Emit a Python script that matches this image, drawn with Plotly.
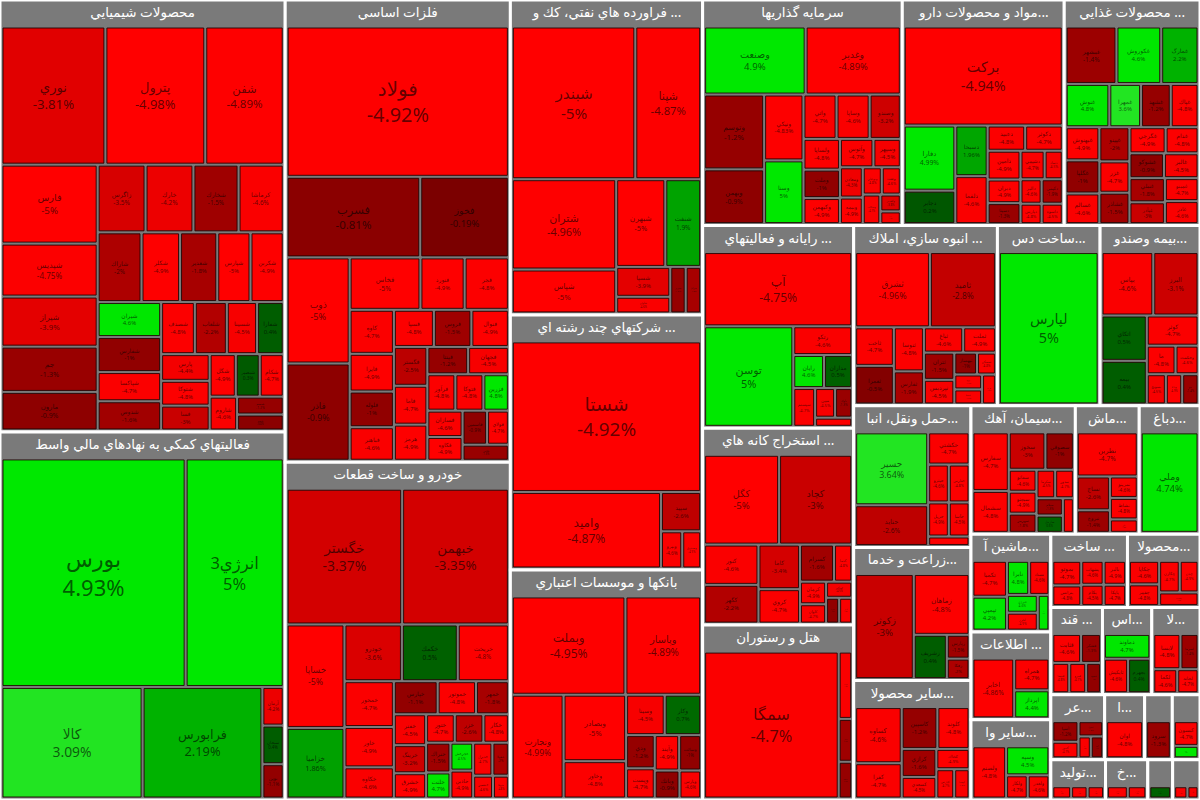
import math
import plotly.graph_objects as go

W, H = 1200, 800

# ---------------- data (values ~ market size read from tile areas, change in %) ----------------
chem_names = ["نوري", "پترول", "شفن", "فارس", "شپديس", "شيراز", "جم", "مارون", "زاگرس", "خارك", "شخارك",
              "كرماشا", "شاراك", "شكلر", "شغدير", "شپارس", "شكربن", "شيران", "شفارس", "شپاكسا", "شدوص",
              "شصدف", "شلعاب", "شسينا", "شفارا", "پارس", "شتوكا", "فسا", "شگل", "شبصير", "شاروم", "شسم",
              "شكام", "شجم"]
chem_values = [155, 149, 117, 82, 55, 52, 47, 40, 35, 35, 33, 33, 33, 29, 28, 25, 25, 24, 24, 20, 20,
               19, 18, 17, 15, 14, 13, 13, 12, 11, 10, 9, 11, 8]
chem_change = [-3.81, -4.98, -4.89, -5, -4.75, -3.9, -1.3, -0.9, -3.5, -4.2, -1.5, -4.6, -2.0, -4.9, -1.8,
               -5, -4.9, 4.6, -1.0, -4.7, -1.6, -4.8, -2.2, -4.5, 0.4, -4.4, -4.8, -3.0, -4.9, 0.3, -4.6,
               -1.2, -4.7, -0.8]

fin_names = ["بورس", "انرژي3", "كالا", "فرابورس", "آرمان", "سبحان", "نوين"]
fin_values = [460, 245, 172, 146, 9, 9, 8]
fin_change = [4.93, 5, 3.09, 2.19, -4.2, 0.4, -1.1]

metal_names = ["فولاد", "فسرب", "فخوز", "ذوب", "فاذر", "فخاس", "فنورد", "فجر", "كاوه", "فايرا", "فلوله",
               "فباهنر", "فسپا", "فروس", "فنوال", "فگستر", "فاما", "هرمز", "فپنتا", "فجهان", "فرآور",
               "فزرين", "فسازان", "فكاوه", "فولاي", "فلامي", "فتوكا", "فاسمين"]
metal_values = [360, 116, 77, 72, 66, 40, 25, 25, 21, 18, 17, 16, 16, 15, 15, 14, 14, 13, 12, 12, 11,
                10, 10, 9, 8, 8, 11, 9]
metal_change = [-4.92, -0.81, -0.19, -5, -0.9, -5, -4.9, -4.8, -4.7, -4.9, -1.0, -4.6, -4.8, -1.5, -4.9,
                -2.5, -4.7, -4.9, -1.2, -4.5, -4.8, 4.8, -4.6, -4.9, -4.7, -1.3, -4.8, -0.9]

auto_names = ["خگستر", "خبهمن", "خساپا", "خزاميا", "خودرو", "خكمك", "خريخت", "خمحور", "خاور", "خكاوه",
              "خپارس", "خموتور", "خمهر", "خفنر", "خرينگ", "خشرق", "ختور", "خزر", "خكار", "ختراك",
              "خلنت", "خچرخش", "خاذين", "خفولا", "خنصير", "ختوقا", "خديزل"]
auto_values = [173, 160, 66, 45, 36, 35, 32, 25, 22, 17, 16, 14, 12, 11, 10, 9, 9, 9, 8, 8, 7, 7, 7, 6,
               5, 4, 7]
auto_change = [-3.37, -3.35, -5, 1.86, -3.6, 0.5, -4.8, -4.7, -4.9, -4.6, -1.1, -4.8, -1.8, -4.5, -3.2,
               -4.9, -4.7, -2.6, -4.8, -1.5, 4.7, 4.5, -4.9, -2.0, -4.6, -4.8, -4.7]

oil_names = ["شبندر", "شپنا", "شتران", "شپاس", "شبهرن", "شنفت", "شسپا", "شاوان", "شبريز", "شرانل"]
oil_values = [210, 112, 105, 51, 48, 35, 18, 10, 8, 8]
oil_change = [-5, -4.87, -4.96, -5, -5, 1.9, -3.9, -4.6, -1.2, -1.8]

multi_names = ["شستا", "وامید", "سپيد", "ونيرو", "وصندوق"]
multi_values = [325, 130, 18, 9, 8]
multi_change = [-4.92, -4.87, -2.6, -4.6, -4.9]

bank_names = ["وبملت", "وپاسار", "وتجارت", "وبصادر", "وخاور", "وسينا", "وكار", "ودي", "وپست", "وسالت",
              "وبانك", "وآيند", "وپارس"]
bank_values = [129, 86, 62, 48, 27, 18, 17, 11, 10, 9, 8, 10, 7]
bank_change = [-4.95, -4.89, -4.99, -5, -4.8, -4.5, 0.7, -1.2, -4.7, -1.0, -0.9, -4.9, -4.6]

inv_names = ["وصنعت", "وغدير", "وتوسم", "وبهمن", "ونيكي", "وسنا", "واتي", "وساپا", "وصندو", "ولساپا",
             "وكبهمن", "وآتوس", "وسپهر", "وملت", "ومعادن", "وبوعلي", "ونفت", "وبيمه", "وسكاب", "ورنا",
             "وكغدير"]
inv_values = [80, 75, 52, 38, 30, 29, 17, 17, 16, 13, 11, 11, 9, 12, 8, 6, 6, 7, 6, 3, 4]
inv_change = [4.9, -4.89, -1.2, -0.9, -4.83, 5, -4.7, -4.6, -3.2, -4.8, -4.9, -4.7, -4.5, -1.0, -4.3,
              -4.8, -4.6, -4.9, -4.7, -4.5, -3.8]

pharma_names = ["بركت", "دفارا", "دسبحا", "دجابر", "دلقما", "دعبيد", "دكوثر", "ديران", "دسينا", "دتماد",
                "دپارس", "دامين", "دشيمي", "دالبر", "داسوه", "دكيمي"]
pharma_values = [183, 39, 19, 20, 18, 11, 11, 9, 8, 6, 5, 11, 8, 6, 5, 6]
pharma_change = [-4.94, 4.99, 1.96, 0.2, -4.6, -4.8, -4.7, -4.9, -1.3, -4.5, -4.8, -4.9, -4.7, -4.6,
                 -4.5, -1.9]

food_names = ["غبشهر", "غكوروش", "غمارگ", "غنوش", "غمهرا", "غشهد", "غپاك", "غبهنوش", "غگلپا", "غسالم",
              "غپينو", "غزر", "غشاذر", "غگرجي", "غدام", "غشوكو", "غالبر", "غپآذر", "غمينو", "غنيلي",
              "غاذر"]
food_values = [34, 30, 25, 22, 16, 15, 14, 13, 13, 12, 12, 11, 11, 11, 10, 10, 10, 9, 9, 10, 9]
food_change = [-1.4, 4.6, 2.2, 4.8, 3.6, -1.2, -4.8, -4.9, -1.0, -4.6, -2.0, -4.7, -1.5, -4.9, -4.8,
               -0.9, -4.5, -3.0, -4.7, -1.8, -4.6]

comp_names = ["آپ", "توسن", "رتكو", "رايان", "مداران", "سيستم", "ناوك", "پرداخت", "مبين"]
comp_values = [130, 106, 20, 12, 11, 10, 6, 4, 7]
comp_change = [-4.75, 5, -4.6, 4.6, 0.5, -4.7, -1.3, -4.8, -4.5]

estate_names = ["ثشرق", "ثاميد", "ثاخت", "ثعمرا", "ثنوسا", "ثفارس", "ثباغ", "ثملت", "ثتران", "ثپرديس",
                "ثبهساز", "ثمسكن", "ثرود", "ثاصفا", "ثغرب"]
estate_values = [68, 60, 18, 18, 16, 12, 12, 10, 10, 9, 6, 5, 5, 5, 5]
estate_change = [-4.96, -2.8, -4.7, -0.5, -4.8, -1.9, -4.6, -4.9, -1.5, -4.5, -1.0, -4.8, -4.7, -4.6,
                 -4.9]

device_names = ["لپارس"]
device_values = [185]
device_change = [5]

ins_names = ["بپاس", "البرز", "اتكاي", "بيمه", "كوثر", "ما", "وحكمت", "ودانا", "بسويچ", "بنو"]
ins_values = [40, 35, 25, 24, 19, 10, 8, 6, 7, 6]
ins_change = [-4.6, -3.1, 0.5, 0.4, -4.7, -4.8, -4.6, -4.9, -4.5, -1.4]

mine_names = ["كگل", "كچاد", "كنور", "كگهر", "كاما", "كروي", "كسرام", "كدما", "كمنگنز", "كترام",
              "كپرور", "كرمان", "كاوان"]
mine_values = [80, 78, 26, 25, 22, 17, 15, 8, 5, 4, 4, 7, 6]
mine_change = [-5, -3.0, -4.6, -2.2, -3.4, -4.7, -1.6, -4.8, -4.5, -1.0, -4.6, -4.9, -4.7]

hotel_names = ["سمگا", "سپيدار", "سكرد", "سفينا"]
hotel_values = [240, 11, 7, 6]
hotel_change = [-4.7, -4.6, -1.5, -1.2]

trans_names = ["حسير", "حتايد", "حكشتي", "حپترو", "حفارس", "حريل", "حآسا", "حسينا"]
trans_values = [68, 38, 17, 10, 10, 9, 9, 5]
trans_change = [3.64, -2.6, -4.7, -4.6, -4.8, -4.9, -4.5, -4.7]

agri_names = ["زكوثر", "زماهان", "زشريف", "زپارس", "زفكا"]
agri_values = [80, 44, 19, 7, 6]
agri_change = [-3.0, -4.8, 0.4, -1.5, -2.0]

nonmet_names = ["كساوه", "كفرا", "كاسپين", "كلوند", "كرازي", "كسعدي", "كخاك", "كپارس", "كهمدا"]
nonmet_values = [35, 22, 20, 18, 13, 10, 9, 7, 6]
nonmet_change = [-4.6, -4.7, -1.2, -4.8, -1.6, -4.5, -4.9, -4.7, -4.6]

cement_names = ["سفارس", "سخوز", "سصوفي", "سشمال", "سفانو", "سبجنو", "سهرمز", "سكرما", "سيلام",
                "ساربيل", "سدور", "سخاش"]
cement_values = [28, 18, 14, 20, 8, 8, 7, 7, 6, 6, 7, 5]
cement_change = [-4.7, -3.0, -1.0, -4.8, -4.6, -4.9, -1.8, -4.5, -1.3, 0.6, -4.7, -4.6]

textile_names = ["نطرين", "نساج", "نبروج", "نمرينو", "نشاط", "نگين"]
textile_values = [36, 15, 10, 8, 8, 5]
textile_change = [-4.7, -2.6, -1.4, -4.6, -4.8, -4.5]

tan_names = ["وملي"]
tan_values = [78]
tan_change = [4.74]

mach_names = ["تكمبا", "تپمپي", "تايرا", "فنرژي", "بكاب", "تشتاد", "لخزر"]
mach_values = [18, 17, 11, 8, 6, 10, 8]
mach_change = [-4.7, 4.2, 4.8, 4.6, 4.5, -4.6, -4.9]

build_names = ["بموتو", "بترانس", "بشهاب", "بالبر", "بكام", "بايكا"]
build_values = [12, 10, 9, 9, 8, 8]
build_change = [-4.7, -4.8, -4.6, -4.9, -4.5, -4.7]

prod_names = ["چكاپا", "چفيبر", "چكارن", "چدن", "چافست"]
prod_values = [12, 11, 11, 10, 9]
prod_change = [-4.6, -4.8, -4.7, -4.9, -4.5]

info_names = ["اخابر", "همراه", "اپرداز"]
info_values = [38, 17, 15]
info_change = [-4.86, -4.7, 4.4]

ofin_names = ["ولصنم", "وسپه", "ولكار", "ولغدر"]
ofin_values = [28, 20, 8, 8]
ofin_change = [-4.8, 4.5, -4.7, -4.6]

sugar_names = ["قثابت", "قشكر", "قنيشا", "قمرو", "قشهد"]
sugar_values = [13, 9, 8, 8, 7]
sugar_change = [-4.6, -1.3, -4.8, -4.7, -1.0]

as_names = ["دماوند", "تاپكيش", "بجهرم"]
as_values = [18, 13, 12]
as_change = [4.7, -4.6, 0.4]

la_names = ["لابسا", "لسرما", "لكما", "لخانه"]
la_values = [15, 10, 9, 8]
la_change = [-4.8, -1.4, -4.6, -4.7]

ar_names = ["آسيا", "آكنتور", "اميرآ", "آبادا", "آتيه"]
ar_values = [10, 8, 7, 5, 5]
ar_change = [-1.2, -4.7, -1.6, -4.6, -1.0]

a_names = ["اوان"]
a_values = [26]
a_change = [-4.8]

bl1_names = ["سرود"]
bl1_values = [18]
bl1_change = [-1.3]

bl2_names = ["كيسون", "ثنظام"]
bl2_values = [12, 6]
bl2_change = [-4.7, 4.6]

tol_names = ["بورك", "تملت", "بفجر"]
tol_values = [8, 7, 7]
tol_change = [-4.7, -4.8, -4.6]

kh_names = ["خعمرا", "خكرمان"]
kh_values = [9, 8]
kh_change = [-4.8, -4.6]

bl3_names = ["ساروم"]
bl3_values = [10]
bl3_change = [0.5]

bl4_names = ["سنير", "كلر"]
bl4_values = [6, 5]
bl4_change = [-4.7, -4.5]

# sector table: key, header label, leaves
sectors = {
    "chem": ("محصولات شيميايي", chem_names, chem_values, chem_change),
    "fin": ("فعاليتهاي كمكي به نهادهاي مالي واسط", fin_names, fin_values, fin_change),
    "metal": ("فلزات اساسي", metal_names, metal_values, metal_change),
    "auto": ("خودرو و ساخت قطعات", auto_names, auto_values, auto_change),
    "oil": ("فراورده هاي نفتي، كك و ...", oil_names, oil_values, oil_change),
    "multi": ("شركتهاي چند رشته اي ...", multi_names, multi_values, multi_change),
    "bank": ("بانكها و موسسات اعتباري", bank_names, bank_values, bank_change),
    "inv": ("سرمايه گذاريها", inv_names, inv_values, inv_change),
    "pharma": ("مواد و محصولات دارو...", pharma_names, pharma_values, pharma_change),
    "food": ("محصولات غذايي ...", food_names, food_values, food_change),
    "comp": ("رايانه و فعاليتهاي ...", comp_names, comp_values, comp_change),
    "estate": ("انبوه سازي، املاك ...", estate_names, estate_values, estate_change),
    "device": ("ساخت دس...", device_names, device_values, device_change),
    "ins": ("بيمه وصندو...", ins_names, ins_values, ins_change),
    "mine": ("استخراج كانه هاي ...", mine_names, mine_values, mine_change),
    "hotel": ("هتل و رستوران", hotel_names, hotel_values, hotel_change),
    "trans": ("حمل ونقل، انبا...", trans_names, trans_values, trans_change),
    "agri": ("زراعت و خدما...", agri_names, agri_values, agri_change),
    "nonmet": ("ساير محصولا...", nonmet_names, nonmet_values, nonmet_change),
    "cement": ("سيمان، آهك...", cement_names, cement_values, cement_change),
    "textile": ("ماش...", textile_names, textile_values, textile_change),
    "tan": ("دباغ...", tan_names, tan_values, tan_change),
    "mach": ("ماشين آ...", mach_names, mach_values, mach_change),
    "build": ("ساخت ...", build_names, build_values, build_change),
    "prod": ("محصولا...", prod_names, prod_values, prod_change),
    "info": ("اطلاعات ...", info_names, info_values, info_change),
    "ofin": ("ساير وا...", ofin_names, ofin_values, ofin_change),
    "sugar": ("قند ...", sugar_names, sugar_values, sugar_change),
    "as": ("اس...", as_names, as_values, as_change),
    "la": ("لا...", la_names, la_values, la_change),
    "ar": ("عر...", ar_names, ar_values, ar_change),
    "a": ("ا...", a_names, a_values, a_change),
    "bl1": ("", bl1_names, bl1_values, bl1_change),
    "bl2": ("", bl2_names, bl2_values, bl2_change),
    "tol": ("توليد...", tol_names, tol_values, tol_change),
    "kh": ("خ...", kh_names, kh_values, kh_change),
    "bl3": ("", bl3_names, bl3_values, bl3_change),
    "bl4": ("", bl4_names, bl4_values, bl4_change),
}

# order in which sectors are strung in strips (as in the reference map)
strips = [
    ("col", ["chem", "fin"]),
    ("col", ["metal", "auto"]),
    ("col", ["oil", "multi", "bank"]),
    ("row", ["inv", "pharma", "food"]),
    ("col", ["comp", "mine", "hotel"]),
    ("row", ["estate", "device", "ins"]),
    ("col", ["trans", "agri", "nonmet"]),
    ("row", ["cement", "textile", "tan"]),
    ("col", ["mach", "info", "ofin"]),
    ("row", ["build", "prod"]),
    ("row", ["sugar", "as", "la"]),
    ("row", ["ar", "a", "bl1", "bl2"]),
    ("row", ["tol", "kh", "bl3", "bl4"]),
]

# squarify aspect preference per sector (golden ratio where the map uses wider strips)
tile_ratio = {"chem": 1.618, "fin": 1.618, "oil": 1.618}

# ---------------- styling helpers ----------------
RED_PTS = [(0, 118), (0.8, 139), (3.4, 212), (4.6, 250), (5, 255)]
GREEN_PTS = [(0, 80), (0.6, 100), (2.2, 178), (3.0, 228), (5, 232)]


def interp(x, pts):
    x = min(max(x, pts[0][0]), pts[-1][0])
    for (xa, ya), (xb, yb) in zip(pts[:-1], pts[1:]):
        if xa <= x <= xb:
            return int(round(ya + (yb - ya) * (x - xa) / (xb - xa)))
    return pts[-1][1]


def tile_color(c):
    if c < 0:
        return f"rgb({interp(-c, RED_PTS)},0,0)"
    g = interp(c, GREEN_PTS)
    t = 34 if 2.8 <= c <= 4.0 else 0
    return f"rgb({t},{g},{t})"


def fmt(c):
    return f"{c:g}%"


FONT = "Noto Sans, DejaVu Sans, sans-serif"
HEADER = "#7a7a7a"

# ---------------- strip layout of sectors on the canvas ----------------
totals = {k: sum(v[2]) for k, v in sectors.items()}
rects = {}
x0, y0, x1, y1 = 0.0, 0.0, 1.0, 1.0
remaining = sum(totals[k] for _, ks in strips for k in ks)
for direction, keys in strips:
    s = sum(totals[k] for k in keys)
    frac = s / remaining
    if direction == "col":
        xm = x0 + (x1 - x0) * frac
        cy = y0
        for k in keys:
            h = (y1 - y0) * totals[k] / s
            rects[k] = (x0, cy, xm, cy + h)
            cy += h
        x0 = xm
    else:
        ym = y0 + (y1 - y0) * frac
        cx = x0
        for k in keys:
            w = (x1 - x0) * totals[k] / s
            rects[k] = (cx, y0, cx + w, ym)
            cx += w
        y0 = ym
    remaining -= s

fig = go.Figure()
for key, (label, names, vals, chg) in sectors.items():
    rx0, ry0, rx1, ry1 = rects[key]
    ids = [key] + [f"{key}/{n}" for n in names]
    labels = [label if label else " "] + names
    parents = [""] + [key] * len(names)
    values = [0] + vals
    text = [f"<b>{label}</b>" if label else " "] + [f"{n}<br>{fmt(c)}" for n, c in zip(names, chg)]
    colors = [HEADER] + [tile_color(c) for c in chg]
    sizes = [13.5] + [min(22, max(6, 1.02 * math.sqrt(v) + 0.5)) for v in vals]
    tcolors = ["white"] + ["rgba(0,0,0,0.62)"] * len(names)
    lcolors = ["white"] + ["rgba(30,0,0,0.85)"] * len(names)
    lwidths = [3] + [1] * len(names)
    fig.add_trace(go.Treemap(
        ids=ids, labels=labels, parents=parents, values=values,
        branchvalues="remainder", sort=True,
        text=text, textinfo="text", textposition="middle center",
        textfont=dict(family=FONT, size=sizes, color=tcolors),
        outsidetextfont=dict(family=FONT, size=13.5, color="white"),
        marker=dict(colors=colors, line=dict(color=lcolors, width=lwidths),
                    pad=dict(t=28, l=3, r=3, b=3)),
        root=dict(color=HEADER),
        pathbar=dict(visible=False),
        tiling=dict(packing="squarify", squarifyratio=tile_ratio.get(key, 1)),
        hoverinfo="skip",
        domain=dict(x=[rx0, rx1], y=[1 - ry1, 1 - ry0]),
    ))

fig.update_layout(width=W, height=H, margin=dict(l=0, r=0, t=0, b=0),
                  paper_bgcolor="white", plot_bgcolor="white", showlegend=False,
                  hovermode=False)
fig.write_html("out.html", config={"displayModeBar": False, "staticPlot": True},
               post_script="document.body.style.margin='0px';")
